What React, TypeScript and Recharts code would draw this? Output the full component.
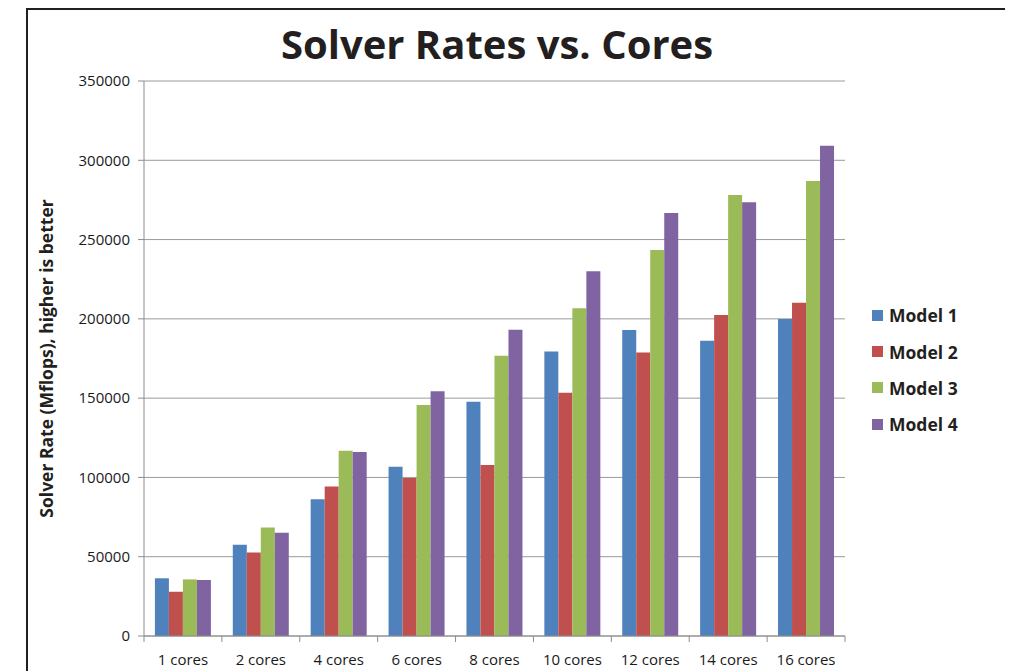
import React from 'react';
import { BarChart, Bar, XAxis, YAxis, CartesianGrid } from 'recharts';

const categories = ['1 cores', '2 cores', '4 cores', '6 cores', '8 cores', '10 cores', '12 cores', '14 cores', '16 cores'];
const seriesNames = ['Model 1', 'Model 2', 'Model 3', 'Model 4'];
const model1 = [36400, 57500, 86300, 106700, 147700, 179400, 192900, 186200, 199900];
const model2 = [27900, 52600, 94300, 99600, 107800, 153400, 178800, 202500, 210100];
const model3 = [35700, 68500, 116900, 145600, 176700, 206700, 243500, 278100, 287000];
const model4 = [35300, 65100, 116100, 154400, 193100, 230000, 266800, 273500, 309100];
const yTicks = [0, 50000, 100000, 150000, 200000, 250000, 300000, 350000];
const colors = ['#4F81BD', '#C0504D', '#9BBB59', '#8064A2'];
const seriesValues = [model1, model2, model3, model4];

const data = categories.map((c, i) => {
  const row: Record<string, string | number> = { name: c };
  seriesNames.forEach((s, k) => {
    row[s] = seriesValues[k][i];
  });
  return row;
});

const W = 1005;
const H = 663;
const X_AXIS_H = 30;
const Y_AXIS_W = 70;
const MARGIN = { top: 73, right: 168, bottom: 35 - X_AXIS_H, left: 66 };
const PLOT_LEFT = MARGIN.left + Y_AXIS_W;
const PLOT_RIGHT = W - MARGIN.right;
const PLOT_BOTTOM = H - MARGIN.bottom - X_AXIS_H;
const BAND = (PLOT_RIGHT - PLOT_LEFT) / categories.length;
const FONT = '"Open Sans", sans-serif';

const XTick = (props: any) => {
  const { x, y, payload, index } = props;
  const isLast = index === categories.length - 1;
  return (
    <g>
      <line x1={x - BAND / 2} x2={x - BAND / 2} y1={PLOT_BOTTOM} y2={PLOT_BOTTOM + 6} stroke="#8c8c8c" />
      {isLast && (
        <line x1={x + BAND / 2} x2={x + BAND / 2} y1={PLOT_BOTTOM} y2={PLOT_BOTTOM + 6} stroke="#8c8c8c" />
      )}
      <text x={x} y={y} dy="0.71em" textAnchor="middle" fontFamily={FONT} fontSize={15} fill="#1a1a1a">
        {payload.value}
      </text>
    </g>
  );
};

const LegendBlock = () => (
  <div style={{ position: 'absolute', left: 864, top: 289, fontFamily: FONT }}>
    {seriesNames.map((s, i) => (
      <div key={s} style={{ display: 'flex', alignItems: 'center', height: 36.4 }}>
        <div style={{ width: 11, height: 11, background: colors[i], marginRight: 6 }} />
        <span style={{ fontWeight: 700, fontSize: 17.5, color: '#231f20' }}>{s}</span>
      </div>
    ))}
  </div>
);

export default function App() {
  return (
    <div style={{ position: 'relative', width: W, height: H, overflow: 'hidden', background: '#fff' }}>
      <div
        style={{
          position: 'absolute',
          left: 18,
          top: 0,
          width: 982,
          height: 700,
          border: '2px solid #231f20',
          boxSizing: 'border-box',
        }}
      />
      <div
        style={{
          position: 'absolute',
          left: 489,
          top: 10,
          transform: 'translateX(-50%)',
          whiteSpace: 'nowrap',
          fontFamily: FONT,
          fontWeight: 700,
          fontSize: 40,
          color: '#231f20',
          lineHeight: '52px',
        }}
      >
        Solver Rates vs. Cores
      </div>
      <div style={{ position: 'absolute', left: 0, top: 0 }}>
        <BarChart width={W} height={H} data={data} margin={MARGIN} barCategoryGap="14%" barGap={0}>
          <CartesianGrid vertical={false} stroke="#9a9a9a" strokeWidth={1} />
          <XAxis
            dataKey="name"
            height={X_AXIS_H}
            stroke="#8c8c8c"
            tickLine={false}
            tickSize={6}
            tickMargin={12}
            tick={<XTick />}
            interval={0}
          />
          <YAxis
            width={Y_AXIS_W}
            domain={[0, 350000]}
            ticks={yTicks}
            interval={0}
            stroke="#8c8c8c"
            tickSize={6}
            tickMargin={8}
            tick={{ fontFamily: FONT, fontSize: 15, fill: '#1a1a1a' }}
            label={{
              value: 'Solver Rate (Mflops), higher is better',
              angle: -90,
              position: 'left',
              offset: 27,
              style: { textAnchor: 'middle', fontFamily: FONT, fontWeight: 700, fontSize: 17.5, fill: '#231f20' },
            }}
          />
          {seriesNames.map((s, i) => (
            <Bar key={s} dataKey={s} fill={colors[i]} isAnimationActive={false} />
          ))}
        </BarChart>
      </div>
      <LegendBlock />
    </div>
  );
}
